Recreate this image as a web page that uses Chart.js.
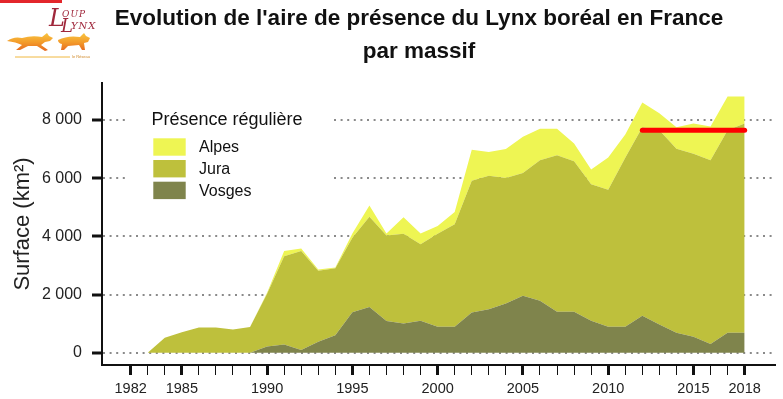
<!DOCTYPE html>
<html><head><meta charset="utf-8">
<script src="https://cdn.jsdelivr.net/npm/chart.js@4.4.1/dist/chart.umd.min.js"></script>
<style>
html,body{margin:0;padding:0;background:#fff;}
#wrap{position:relative;width:783px;height:399px;overflow:hidden;font-family:"Liberation Sans",Arial,sans-serif;background:#fff;}
#c{position:absolute;left:0;top:0;}
#title{position:absolute;left:0;top:1px;width:838px;text-align:center;font-weight:bold;font-size:22.5px;line-height:33px;color:#111;white-space:nowrap;}
#redbar{position:absolute;left:0;top:0;width:62px;height:3px;background:#e3262b;}
#logo{position:absolute;left:0;top:0;}
.lg{position:absolute;color:#a0283c;font-family:"DejaVu Serif",serif;font-style:italic;line-height:1;}
#tiny{position:absolute;left:72px;top:54px;font-size:4px;color:#d08a2a;}
</style></head>
<body>
<div id="wrap">
<canvas id="c" width="783" height="399"></canvas>
<canvas id="logo" width="100" height="62"></canvas>
<div id="redbar"></div>
<div class="lg" style="left:49px;top:6px;font-size:24px;">L</div>
<div class="lg" style="left:62px;top:10px;font-size:9px;letter-spacing:1px;">OUP</div>
<div class="lg" style="left:61px;top:17px;font-size:18px;">L</div>
<div class="lg" style="left:71px;top:21px;font-size:10px;letter-spacing:1px;">YNX</div>
<div id="tiny">le Réseau</div>
<div id="title">Evolution de l'aire de présence du Lynx boréal en France<br>par massif</div>
</div>
<script>
// ---- data (km²) ----
const years   = [1983,1984,1985,1986,1987,1988,1989,1990,1991,1992,1993,1994,1995,1996,1997,1998,1999,2000,2001,2002,2003,2004,2005,2006,2007,2008,2009,2010,2011,2012,2013,2014,2015,2016,2017,2018];
const vosges  = [0,0,0,0,0,0,0,210,280,90,380,600,1390,1570,1090,1000,1100,890,890,1385,1490,1690,1960,1790,1410,1410,1100,890,890,1270,970,690,550,300,690,690];
const jura    = [0,515,700,870,870,800,880,1820,3040,3410,2435,2300,2560,3100,2940,3090,2625,3200,3530,4525,4590,4320,4220,4830,5380,5170,4690,4710,5810,6480,6680,6320,6290,6320,6960,7190];
const alpes   = [0,0,0,0,0,0,0,30,180,80,45,30,150,390,70,570,375,270,420,1070,820,990,1240,1080,910,610,510,1110,800,850,580,740,1040,1160,1160,930];
const labeledYears = [1982,1985,1990,1995,2000,2005,2010,2015,2018];
const firstTickYear = 1982, lastTickYear = 2018;
const yTickValues = [0,2000,4000,6000,8000];
const redLineYears = [2012,2018];
const redLineValue = 7650;
const seriesNames = ['Alpes','Jura','Vosges'];
const legendTitle = 'Présence régulière';

const colAlpes = '#eef553', colJura = '#bec03c', colVosges = '#7f844c';

const pts = arr => years.map((y,i)=>({x:y, y:arr[i]}));

const legendPlugin = {
  id:'boxLegend',
  afterDatasetsDraw(chart){
    const c = chart.ctx;
    c.save();
    c.fillStyle = '#fff';
    c.fillRect(128,100,206,105);
    c.fillStyle = '#111';
    c.font = '18px "Liberation Sans", Arial, sans-serif';
    c.textBaseline = 'alphabetic';
    c.textAlign = 'left';
    c.fillText(legendTitle, 151.5, 124.5);
    const cols = [colAlpes, colJura, colVosges];
    c.font = '16px "Liberation Sans", Arial, sans-serif';
    c.textBaseline = 'middle';
    seriesNames.forEach((n,i)=>{
      const top = 138.3 + i*21.7;
      c.fillStyle = cols[i];
      c.fillRect(153.3, top, 32.4, 17.4);
      c.fillStyle = '#111';
      c.fillText(n, 199, top + 9.5);
    });
    c.restore();
  }
};

const fmt = v => String(v).replace(/\B(?=(\d{3})+(?!\d))/g,' ');

new Chart(document.getElementById('c'), {
  type:'line',
  data:{ datasets:[
    {label:'marque', data: redLineYears.map(x=>({x, y:redLineValue})), borderColor:'#ff0000', borderWidth:5, borderCapStyle:'round', fill:false, pointRadius:0, stack:'mark', tension:0},
    {label:'Vosges', data: pts(vosges), backgroundColor:colVosges, borderWidth:0, pointRadius:0, fill:'origin', tension:0},
    {label:'Jura', data: pts(jura), backgroundColor:colJura, borderWidth:0, pointRadius:0, fill:'-1', tension:0},
    {label:'Alpes', data: pts(alpes), backgroundColor:colAlpes, borderWidth:0, pointRadius:0, fill:'-1', tension:0}
  ]},
  options:{
    responsive:false, animation:false, devicePixelRatio:1,
    layout:{padding:{top:83,right:8,left:0,bottom:0}},
    plugins:{legend:{display:false}, tooltip:{enabled:false}, title:{display:false}},
    elements:{line:{borderWidth:0}},
    scales:{
      x:{
        type:'linear', min:1980.32, max:2019.78,
        afterBuildTicks: s => { const t=[]; for(let y=firstTickYear;y<=lastTickYear;y++) t.push({value:y}); s.ticks=t; },
        afterFit: s => { s.height = 34; s.paddingLeft = 0; s.paddingRight = 0; },
        ticks:{ autoSkip:false, maxRotation:0, minRotation:0, padding:5, color:'#222',
          font:{family:'"Liberation Sans", Arial, sans-serif', size:14.5},
          callback: v => labeledYears.includes(v) ? String(v) : '' },
        grid:{ display:true, drawOnChartArea:false, drawTicks:true, tickLength:10, color:'#000',
          tickColor:'#111', tickWidth: ctx => (ctx.tick && labeledYears.includes(ctx.tick.value)) ? 3 : 1 },
        border:{display:true, color:'#111', width:2}
      },
      y:{
        type:'linear', min:-423, max:9272, stacked:true,
        afterBuildTicks: s => { s.ticks = yTickValues.map(v=>({value:v})); },
        afterFit: s => { s.width = 102; },
        ticks:{ padding:10, color:'#222', font:{family:'"Liberation Sans", Arial, sans-serif', size:16}, callback: v => fmt(v) },
        grid:{ display:true, drawOnChartArea:true, drawTicks:true, tickLength:10, color:'#8a8a8a', lineWidth:2, tickColor:'#111', tickWidth:3 },
        border:{display:true, color:'#111', width:2, dash:[2,4.6]},
        title:{display:true, text:'Surface (km²)', color:'#222', font:{family:'"Liberation Sans", Arial, sans-serif', size:22}, padding:{top:10,bottom:0}}
      }
    }
  },
  plugins:[legendPlugin]
});

// decorative logo silhouettes
(function(){
  const c = document.getElementById('logo').getContext('2d');
  const g = c.createLinearGradient(0,33,0,52);
  g.addColorStop(0,'#f8c540'); g.addColorStop(0.5,'#f39a2a'); g.addColorStop(1,'#e4621e');
  c.fillStyle = g;
  // wolf
  c.beginPath();
  c.moveTo(7,41); c.quadraticCurveTo(14,36,22,38); c.quadraticCurveTo(32,35,42,37);
  c.lineTo(47,33); c.lineTo(49,36); c.lineTo(53,38); c.lineTo(50,41); c.lineTo(45,42);
  c.lineTo(41,45); c.lineTo(48,50); c.lineTo(45,51); c.lineTo(37,46); c.lineTo(28,46);
  c.lineTo(20,50); c.lineTo(16,50); c.lineTo(22,45); c.quadraticCurveTo(16,42,7,41);
  c.fill();
  // lynx
  c.beginPath();
  c.moveTo(58,40); c.quadraticCurveTo(68,35,80,37); c.lineTo(84,33); c.lineTo(86,36);
  c.lineTo(90,38); c.lineTo(88,42); c.lineTo(84,43); c.lineTo(85,50); c.lineTo(82,50);
  c.lineTo(79,45); c.lineTo(68,46); c.lineTo(64,50); c.lineTo(61,50); c.lineTo(62,44);
  c.quadraticCurveTo(58,43,58,40);
  c.fill();
  c.strokeStyle = '#f0b840'; c.lineWidth = 1;
  c.beginPath(); c.moveTo(15,57); c.lineTo(70,57); c.stroke();
})();
</script>
</body></html>
